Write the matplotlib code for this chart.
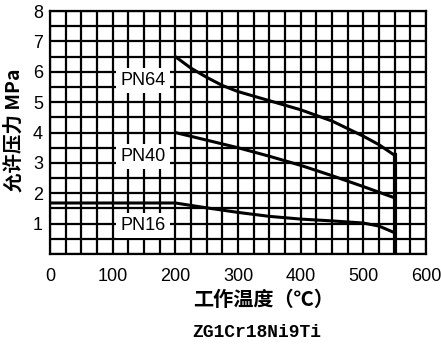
import numpy as np
import matplotlib
matplotlib.use('Agg')
import matplotlib.pyplot as plt

# curves (temperature in C, pressure in MPa)
pn64_t = [200, 225, 250, 275, 300, 350, 400, 450, 500, 525, 550]
pn64_p = [6.5, 6.12, 5.82, 5.55, 5.35, 5.05, 4.75, 4.38, 3.88, 3.6, 3.25]
pn40_t = [200, 250, 300, 350, 400, 450, 500, 550]
pn40_p = [4.0, 3.75, 3.5, 3.22, 2.92, 2.58, 2.22, 1.85]
pn16_t = [0, 200, 250, 300, 350, 400, 450, 500, 525, 550]
pn16_p = [1.68, 1.68, 1.52, 1.37, 1.24, 1.15, 1.09, 1.02, 0.92, 0.7]
t_max = 550

labels = ['PN64', 'PN40', 'PN16']
label_pos = [(148, 5.72), (148, 3.22), (148, 0.95)]

xticks = [0, 100, 200, 300, 400, 500, 600]
yticks = [1, 2, 3, 4, 5, 6, 7, 8]

plt.rcParams['font.family'] = ['Liberation Sans', 'Noto Sans CJK SC']

fig = plt.figure(figsize=(4.41, 3.46), dpi=100)
ax = fig.add_axes([0.1134, 0.2659, 0.8526, 0.702])

# dense grid
for x in np.arange(0, 601, 25):
    ax.axvline(x, color='k', lw=1.6, zorder=1)
for y in np.arange(0, 8.01, 0.5):
    ax.axhline(y, color='k', lw=1.6, zorder=1)

ax.plot(pn64_t, pn64_p, color='k', lw=2.2, zorder=3)
ax.plot(pn40_t, pn40_p, color='k', lw=2.2, zorder=3)
ax.plot(pn16_t, pn16_p, color='k', lw=2.2, zorder=3)
ax.plot([t_max, t_max], [0, pn64_p[-1]], color='k', lw=3, zorder=3)

for lab, (x, y) in zip(labels, label_pos):
    ax.text(x, y, lab, fontsize=13, ha='center', va='center', zorder=4,
            bbox=dict(facecolor='white', edgecolor='none', pad=3))

ax.set_xlim(0, 600)
ax.set_ylim(0, 8)
ax.set_xticks(xticks)
ax.set_yticks(yticks)
ax.tick_params(length=0, labelsize=13, pad=5)
ax.tick_params(axis='x', pad=10)
for s in ax.spines.values():
    s.set_linewidth(1.6)

fig.text(0.032, 0.624, '允许压力 MPa', rotation=90, ha='center', va='center',
         fontsize=14, fontweight='bold', family=['Noto Sans CJK SC'])
fig.text(0.437, 0.133, '工作温度（℃）', ha='left', va='center',
         fontsize=14.5, fontweight='bold', family=['Noto Sans CJK SC'])
fig.text(0.437, 0.038, 'ZG1Cr18Ni9Ti', ha='left', va='center',
         fontsize=13, fontweight='bold', family=['Liberation Mono'])

fig.savefig('out.png', dpi=100)
